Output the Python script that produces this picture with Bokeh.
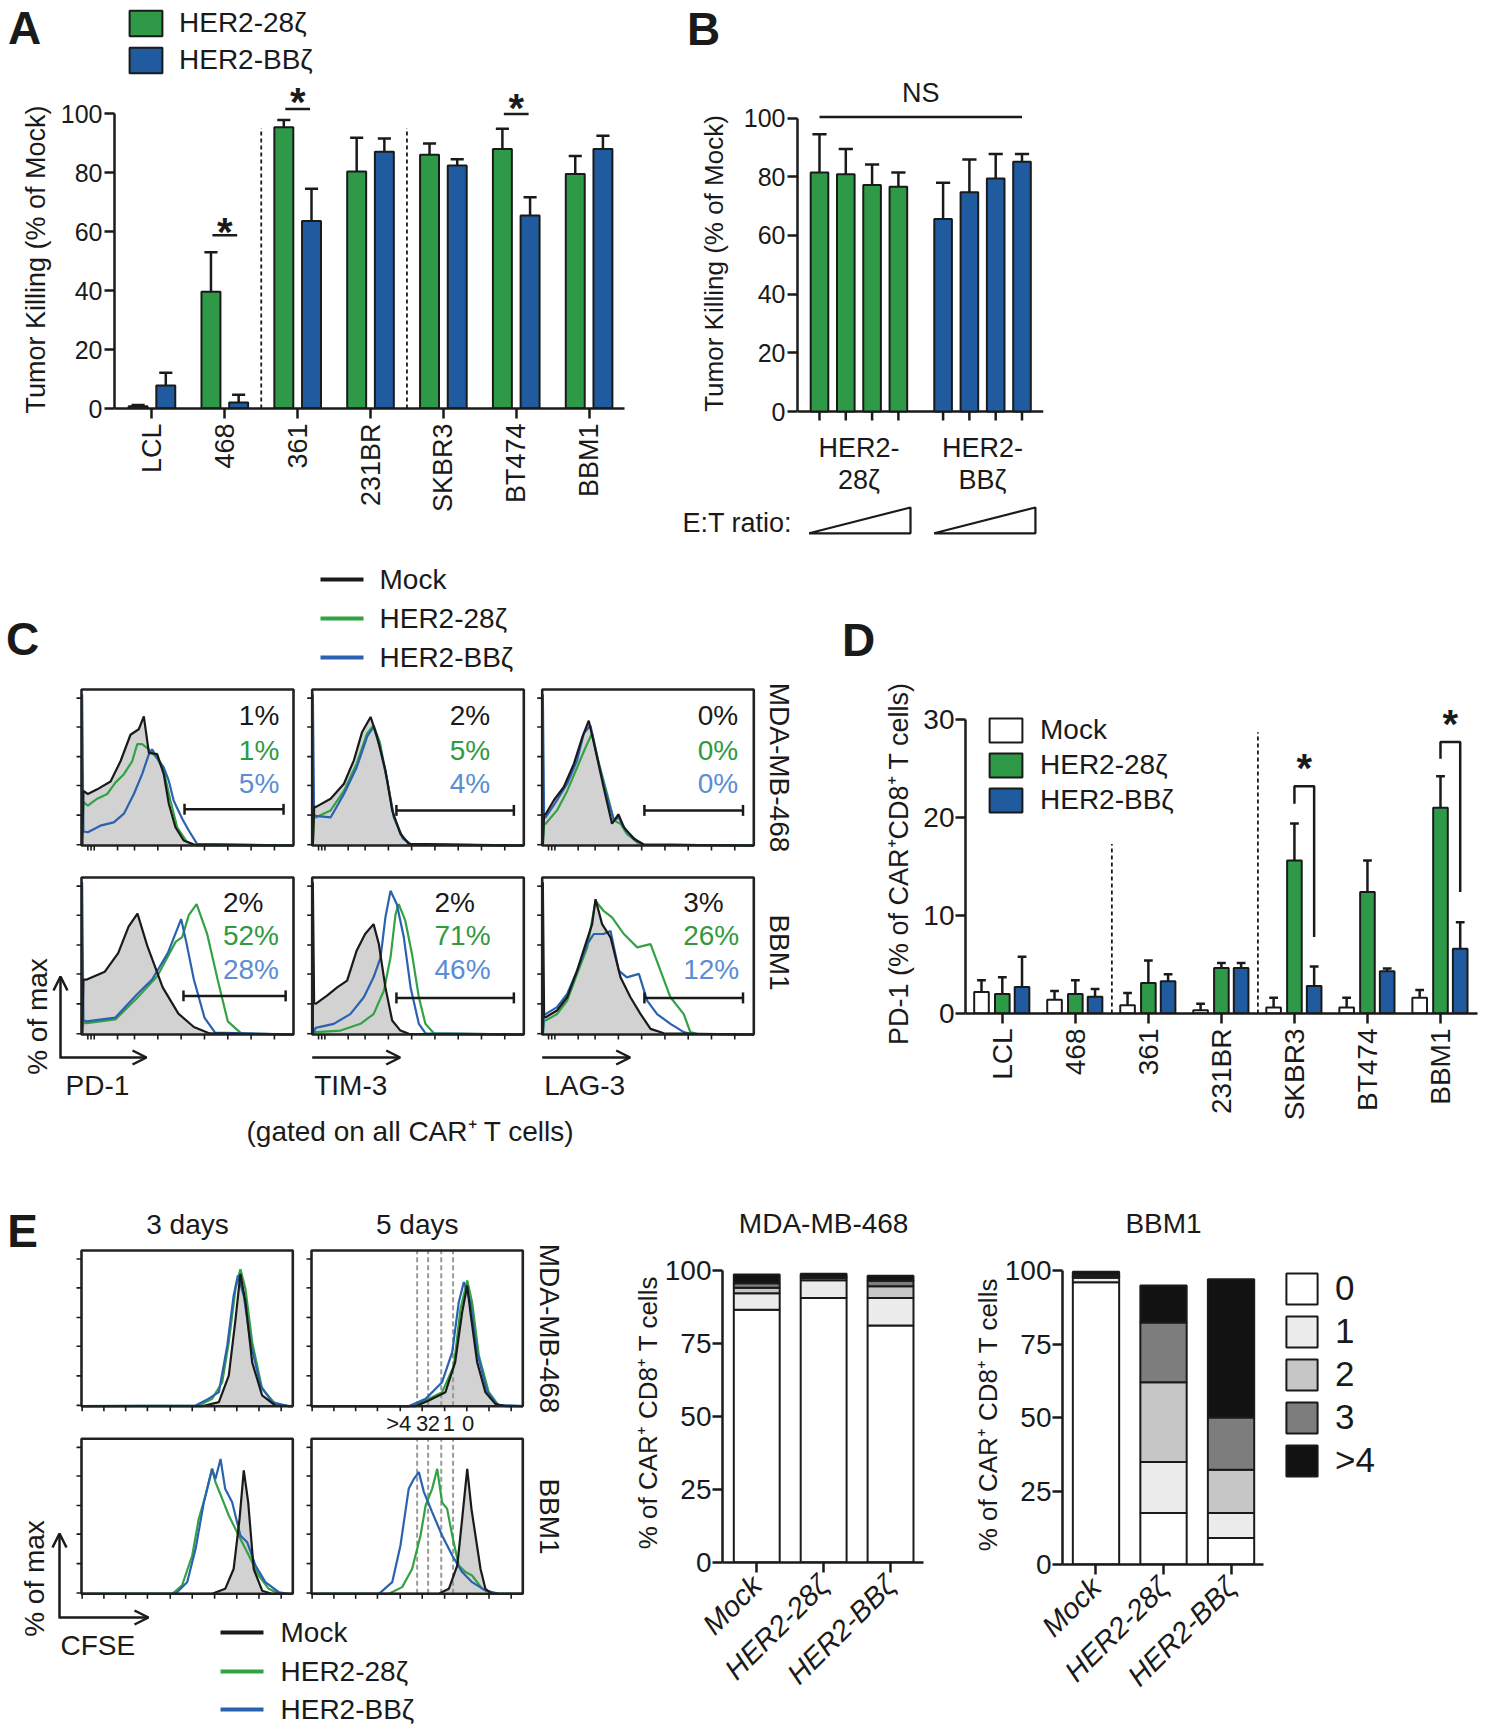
import math
import numpy as np
from bokeh.plotting import figure
from bokeh.models import (Range1d, FixedTicker, Label, Legend, LegendItem, Arrow,
                          OpenHead, Spacer)
from bokeh.layouts import row, column
from bokeh.embed import file_html
from bokeh.resources import INLINE
from bokeh.core.properties import value

# ====================== DATA ======================
# ---- Panel A: tumor killing (% of mock) ----
a_lines = ["LCL", "468", "361", "231BR", "SKBR3", "BT474", "BBM1"]
a_28z_mean = [0.8, 39.6, 95.3, 80.3, 86.0, 88.0, 79.5]
a_28z_sem = [0.4, 13.4, 2.5, 11.5, 3.8, 6.8, 6.1]
a_bbz_mean = [7.8, 2.0, 63.6, 87.0, 82.4, 65.4, 88.0]
a_bbz_sem = [4.3, 2.7, 10.9, 4.5, 2.1, 6.2, 4.5]
a_sig_index = [1, 2, 5]
a_sig_line = [58.7, 101.5, 99.8]
a_sig_star = [62.8, 106.8, 105.0]
a_dividers = [1.5, 3.5]
a_divider_top = 95
a_ticks = [0, 20, 40, 60, 80, 100]

# ---- Panel B: E:T titration ----
b_28z_mean = [81.5, 80.9, 77.2, 76.6]
b_28z_sem = [13.0, 8.6, 7.0, 4.9]
b_bbz_mean = [65.6, 74.7, 79.4, 85.1]
b_bbz_sem = [12.4, 11.2, 8.4, 2.7]
b_groups_top = ["HER2-", "HER2-"]
b_groups_bottom = ["28ζ", "BBζ"]
b_ns_line = 100.4

# ---- Panel C: histograms (x = % of axis, y = % of max) ----
pd1_mda_mock_x = [0.3, 0.9, 3, 7.4, 13.7, 18.4, 23.1, 27, 29.4, 31.8, 35.7, 38.8, 41.2, 44.3, 48.2, 53, 100]
pd1_mda_mock_y = [0, 35, 33, 36, 41, 54, 71, 74.5, 82.8, 59.4, 58.6, 45.8, 26.8, 11.7, 3.2, 0.6, 0]
pd1_mda_28z_x = [0.3, 0.9, 3, 7.4, 12.1, 16, 20, 23.9, 26.3, 28.6, 31.8, 35.7, 38.8, 42, 45.1, 49.8, 54.5, 100]
pd1_mda_28z_y = [0, 28, 25.5, 30, 33, 40.3, 45.7, 54, 65, 65, 61.6, 56, 47.8, 28.7, 11.7, 2.2, 0, 0]
pd1_mda_bbz_x = [0.3, 0.3, 0.9, 3, 8.9, 15.2, 20, 24.7, 28.6, 31.8, 33.3, 35.7, 38.8, 41.2, 43.5, 47.5, 50.6, 54.5, 100]
pd1_mda_bbz_y = [0, 97, 9, 8.5, 12.7, 14.8, 20.4, 33, 45.8, 58.6, 61.6, 56, 50, 41.4, 28.7, 17.2, 9.6, 1, 0]

tim3_mda_mock_x = [0.3, 0.9, 1.6, 8.7, 15, 19.7, 23.6, 27.6, 30.7, 34.6, 37.8, 41.7, 45.7, 100]
tim3_mda_mock_y = [0, 25, 24.6, 30, 39.6, 54.6, 72.8, 82.4, 69.6, 48.2, 22.5, 7.5, 1, 0]
tim3_mda_28z_x = [0.3, 0.9, 1.6, 8.7, 15, 21, 26, 29, 32, 35.4, 38.6, 42.5, 46.5, 100]
tim3_mda_28z_y = [0, 19, 18, 22.5, 35, 52.5, 72, 77, 66, 42, 18, 5.4, 0.6, 0]
tim3_mda_bbz_x = [0.3, 0.3, 0.9, 1.6, 8.7, 15, 21, 26, 29, 32, 35.4, 38.6, 43, 47, 100]
tim3_mda_bbz_y = [0, 97, 20, 19, 18, 33, 50, 70, 76, 63, 42, 18, 4.3, 0.6, 0]

lag3_mda_mock_x = [0.3, 0.9, 1.6, 5.5, 10.2, 15, 19, 22, 25.2, 29, 33, 36, 38.6, 43.3, 48, 100]
lag3_mda_mock_y = [0, 20, 20, 29, 37.5, 52.5, 69.6, 80, 61, 37.5, 14, 20, 11.8, 4.3, 0.6, 0]
lag3_mda_28z_x = [0.3, 0.9, 1.6, 7, 11.8, 16.5, 20.5, 23.6, 26.8, 30.7, 33.9, 37, 40, 44.9, 48, 100]
lag3_mda_28z_y = [0, 14, 14, 22.5, 35, 50, 63, 72, 52.5, 33, 16, 14, 7.5, 2, 0.6, 0]
lag3_mda_bbz_x = [0.3, 0.3, 0.9, 1.6, 7, 11.8, 16.5, 19.7, 22.8, 26, 29.9, 33.9, 36.2, 39.4, 44.9, 48, 100]
lag3_mda_bbz_y = [0, 97, 18, 18, 29, 39.6, 54.6, 72, 77, 56.7, 35, 16, 18, 9.6, 2.8, 0.6, 0]

pd1_bbm_mock_x = [0.3, 0.9, 2.5, 11, 17.3, 22.2, 26.4, 31, 38.3, 45.7, 53, 60.5, 100]
pd1_bbm_mock_y = [0, 35, 35, 40, 51.8, 68.7, 77, 56.6, 30, 13.3, 4.8, 0.7, 0]
pd1_bbm_28z_x = [0.3, 0.9, 2.5, 16, 26, 35.8, 44.4, 47.5, 50.6, 54.3, 59.3, 64.2, 69, 75.3, 100]
pd1_bbm_28z_y = [0, 7.5, 7.2, 9.6, 22.9, 37.3, 59, 62, 76, 83, 63.9, 35, 8.4, 0.7, 0]
pd1_bbm_bbz_x = [0.3, 0.3, 0.9, 2.5, 16, 26, 33.3, 40.7, 47, 49.4, 53, 58, 63, 100]
pd1_bbm_bbz_y = [0, 97, 9, 8.4, 10.8, 25.3, 35, 51.8, 73.5, 59, 35, 10.8, 1.2, 0]

tim3_bbm_mock_x = [0.3, 0.3, 0.9, 1.6, 7, 11.8, 16.5, 21, 25, 29, 31.5, 34.6, 37.8, 41.7, 45.7, 100]
tim3_bbm_mock_y = [0, 97, 20, 19.5, 24.8, 30, 34.3, 53.4, 64, 70.3, 57.6, 30, 8.9, 2.5, 0.4, 0]
tim3_bbm_28z_x = [0.3, 1.6, 13.4, 22.8, 29, 33.9, 37, 39.4, 40.9, 44, 47.2, 50.4, 53.5, 57.5, 100]
tim3_bbm_28z_y = [0, 1.5, 2.5, 6.8, 13, 28, 49, 76.7, 83, 72.5, 51, 23.7, 6.8, 0.8, 0]
tim3_bbm_bbz_x = [0.3, 1.6, 10.2, 18, 24.4, 29, 32.3, 34.6, 37, 40, 43.3, 46.5, 50.4, 53.5, 100]
tim3_bbm_bbz_y = [0, 4.2, 6.8, 13, 23.7, 36.4, 49, 74.6, 91.5, 83, 61.9, 30, 6.8, 0.8, 0]

lag3_bbm_mock_x = [0.3, 0.3, 0.9, 1.6, 7, 11.8, 16.5, 20.5, 23.6, 25.2, 28.3, 32.3, 37, 41.7, 46.5, 51.2, 57.5, 100]
lag3_bbm_mock_y = [0, 97, 11, 11, 15.3, 23.7, 40.7, 57.6, 70.3, 86.2, 70.3, 61.9, 36.4, 23.7, 13, 3.6, 0.8, 0]
lag3_bbm_28z_x = [0.3, 0.9, 1.6, 7, 11.8, 16.5, 21.3, 25.2, 29, 33, 38.6, 44.9, 51.2, 55.9, 60.6, 66.9, 70, 73, 100]
lag3_bbm_28z_y = [0, 9, 8.9, 13, 21.6, 38.6, 55.5, 85, 78.8, 74.6, 64, 55.5, 57.6, 40.7, 23.7, 13, 1.5, 0.4, 0]
lag3_bbm_bbz_x = [0.3, 0.9, 1.6, 7, 11.8, 16.5, 21.3, 24.4, 29, 32.3, 36.2, 40, 45.7, 49.6, 54.3, 60.6, 66.9, 70, 100]
lag3_bbm_bbz_y = [0, 13, 13, 17.4, 25.8, 40.7, 57.6, 64, 64, 66, 40.7, 36.4, 38.6, 21.6, 13, 6.8, 1.5, 0.4, 0]

c_pct_mda = [["1%", "1%", "5%"], ["2%", "5%", "4%"], ["0%", "0%", "0%"]]
c_pct_bbm = [["2%", "52%", "28%"], ["2%", "71%", "46%"], ["3%", "26%", "12%"]]
c_pct_x_mda = [74.2, 65.0, 73.5]
c_pct_x_bbm = [66.7, 57.8, 66.6]
c_pct_y_mda = [83.5, 61.0, 39.6]
c_pct_y_bbm = [84.1, 62.9, 41.7]
c_gate_x0 = [[48.6, 39.8, 48.3], [48.1, 39.8, 48.3]]
c_gate_x1 = [[95.3, 95.3, 94.9], [96.3, 95.3, 94.9]]
c_gate_y = [[23.2, 22.5, 22.5], [24.6, 23.3, 23.3]]
c_markers = ["PD-1", "TIM-3", "LAG-3"]
hist_x_ticks_c = [3, 4.5, 6, 17, 25, 36, 47, 58, 69, 80, 91]
hist_y_ticks = [0.5, 19.5, 38.5, 57, 76, 94.5]
legend_names = ["Mock", "HER2-28ζ", "HER2-BBζ"]

# ---- Panel D: PD-1 ----
d_lines = ["LCL", "468", "361", "231BR", "SKBR3", "BT474", "BBM1"]
d_mock_mean = [2.2, 1.4, 0.85, 0.34, 0.6, 0.6, 1.6]
d_mock_sem = [1.2, 0.9, 1.25, 0.66, 1.0, 1.0, 0.8]
d_28z_mean = [2.0, 2.0, 3.1, 4.65, 15.6, 12.4, 21.0]
d_28z_sem = [1.7, 1.4, 2.3, 0.5, 3.8, 3.2, 3.2]
d_bbz_mean = [2.7, 1.7, 3.3, 4.65, 2.8, 4.3, 6.6]
d_bbz_sem = [3.1, 0.8, 0.7, 0.5, 2.0, 0.3, 2.7]
d_dividers = [1.5, 3.5]
d_divider_top = [17.3, 28.7]
d_sig_index = [4, 6]
d_sig_left_base = [21.4, 26.0]
d_sig_top = [23.2, 27.7]
d_sig_right_base = [7.8, 12.4]
d_sig_star = [26.0, 30.4]
d_ticks = [0, 10, 20, 30]

# ---- Panel E: CFSE histograms ----
cfse_d3_mda_mock_x = [0, 57, 65, 69.7, 72.9, 75.2, 77.6, 80.8, 85.5, 91.8, 100]
cfse_d3_mda_mock_y = [0, 0, 2.6, 19.7, 56, 85, 66.8, 28, 6.9, 0.4, 0]
cfse_d3_mda_28z_x = [0, 55.5, 61.8, 66.6, 69.7, 72.9, 75.2, 77.6, 80.8, 85.5, 91.8, 98, 100]
cfse_d3_mda_28z_y = [0, 0.4, 4.7, 15.4, 41, 75.4, 88, 75.4, 41, 11, 1.5, 0, 0]
cfse_d3_mda_bbz_x = [0, 54, 60, 65, 69, 72, 74, 76.8, 80, 84.7, 90.2, 98, 100]
cfse_d3_mda_bbz_y = [0, 0.4, 4.7, 9, 39, 71, 84, 71, 41, 13.3, 2.6, 0, 0]

cfse_d5_mda_mock_x = [0, 49.2, 55.5, 63.4, 68, 71.3, 73.7, 75.2, 78.4, 82.3, 87, 91.8, 100]
cfse_d5_mda_mock_y = [0, 0, 3.6, 9, 28.3, 60.4, 77.5, 60.4, 28.3, 9, 1.5, 0, 0]
cfse_d5_mda_28z_x = [0, 46, 54, 61.8, 67.4, 70.5, 73.7, 76, 79.2, 83.9, 88.6, 100]
cfse_d5_mda_28z_y = [0, 0, 3.6, 9, 26, 62.5, 80.7, 66.8, 32.5, 9, 0.4, 0]
cfse_d5_mda_bbz_x = [0, 46, 54, 61.8, 66.6, 69.7, 72.1, 75.2, 78.4, 83, 87.9, 100]
cfse_d5_mda_bbz_y = [0, 0, 4.7, 15.4, 34.7, 66.8, 79.7, 66.8, 34.7, 10, 0.9, 0]

cfse_d3_bbm_mock_x = [0, 61.8, 68, 72, 74.8, 76.8, 78.9, 81.5, 85.5, 90, 100]
cfse_d3_bbm_mock_y = [0, 0, 3.2, 16, 48.4, 79.6, 59, 16, 2, 0, 0]
cfse_d3_bbm_28z_x = [0, 43, 47.6, 52.4, 55.5, 58.7, 61.8, 63.4, 66.6, 69.7, 74.4, 79.2, 83.9, 88.6, 93.4, 100]
cfse_d3_bbm_28z_y = [0, 0, 5.4, 24.7, 48.4, 63.4, 80.6, 72, 61.3, 50.5, 37.6, 24.7, 11.8, 3.2, 0, 0]
cfse_d3_bbm_bbz_x = [0, 44.5, 50, 54, 57.9, 61.8, 63.4, 65.8, 68, 71.3, 75.2, 78.4, 82.3, 87, 93.4, 98, 100]
cfse_d3_bbm_bbz_y = [0, 0, 7.5, 29, 59, 80.6, 74, 87, 67.7, 59, 37.6, 33.3, 18.3, 7.5, 1, 0, 0]

cfse_d5_bbm_mock_x = [0, 60.3, 65, 69, 71.3, 73.7, 75.7, 77.6, 80, 82.3, 85.5, 100]
cfse_d5_bbm_mock_y = [0, 0, 3.2, 18.3, 48.4, 80.6, 54.8, 37.6, 16, 3.2, 0, 0]
cfse_d5_bbm_28z_x = [0, 36.6, 42.9, 47.6, 51.6, 54, 57.1, 59.5, 61.8, 64.2, 66.6, 69.7, 72.9, 76, 80.8, 85.5, 100]
cfse_d5_bbm_28z_y = [0, 0, 4.3, 16, 37.6, 57, 67.7, 80.6, 59, 54.8, 37.6, 18.3, 14, 11.8, 3.2, 0, 0]
cfse_d5_bbm_bbz_x = [0, 31.9, 38.2, 42.1, 46, 48.4, 50.8, 53.2, 57.1, 61.8, 66.6, 71.3, 76, 82.3, 88.6, 100]
cfse_d5_bbm_bbz_y = [0, 0, 7.5, 31.2, 67.7, 74, 78.5, 65.6, 52.7, 37.6, 24.7, 14, 7.5, 2.2, 0, 0]

e_division_gates = [50, 55.2, 61.4, 67]
e_division_labels = [">4", "3", "2", "1", "0"]
e_division_label_x = [41.3, 52.4, 57.9, 65.0, 74.1]
hist_x_ticks_e = [0.3, 10.6, 20.9, 31.2, 42, 52.4, 63, 73.5, 84, 94.5]

# ---- Panel E: division stacked bars ----
s_groups = ["Mock", "HER2-28ζ", "HER2-BBζ"]
s_gen_labels = ["0", "1", "2", "3", ">4"]
s_mda_gen0 = [86.5, 90.5, 81.1]
s_mda_gen1 = [5.6, 6.1, 9.4]
s_mda_gen2 = [1.9, 0.7, 4.0]
s_mda_gen3 = [1.5, 0.5, 1.9]
s_mda_gen4 = [3.0, 1.0, 1.7]
s_bbm_gen0 = [96.0, 17.5, 9.0]
s_bbm_gen1 = [1.5, 17.4, 8.5]
s_bbm_gen2 = [0.5, 27.1, 14.7]
s_bbm_gen3 = [0.5, 20.3, 17.8]
s_bbm_gen4 = [1.1, 12.6, 47.0]
s_ticks = [0, 25, 50, 75, 100]

# ====================== STYLE ======================
FONT = "Liberation Sans"
INK = "#1a1a1a"
GREEN = "#2e9a48"
BLUE = "#1f5b9e"
LGREEN = "#33a245"
LBLUE = "#2a62b0"
PCT_COLORS = [INK, "#2f9a40", "#5a8dd4"]
LEG_COLORS = [INK, LGREEN, LBLUE]
GRAY_FILL = "#d2d2d2"
GEN_COLORS = ["#ffffff", "#ececec", "#c6c6c6", "#7d7d7d", "#121212"]
LETTER = "46px"


def base_fig(width, height, xr, yr, left, right, top, bottom, axes=True):
    kw = {} if axes else dict(x_axis_location=None, y_axis_location=None)
    p = figure(width=width, height=height, x_range=xr, y_range=yr,
               output_backend="svg", toolbar_location=None,
               min_border_left=left, min_border_right=right,
               min_border_top=top, min_border_bottom=bottom, **kw)
    p.frame_align = False
    p.outline_line_color = None
    p.grid.visible = False
    p.background_fill_color = "white"
    p.border_fill_color = "white"
    return p


def strip(x0, x1, y0, y1, xr=None):
    # annotation canvas in page pixels (y downwards); frame covers the whole canvas
    return base_fig(int(round(x1 - x0)), int(round(y1 - y0)), xr or Range1d(x0, x1), Range1d(y1, y0),
                    0, 0, 0, 0, axes=False)


def style_axis(ax, size="25px"):
    ax.axis_line_width = 2.5
    ax.axis_line_color = INK
    ax.major_tick_line_width = 2.5
    ax.major_tick_line_color = INK
    ax.major_tick_out = 10
    ax.major_tick_in = 0
    ax.minor_tick_line_color = None
    ax.major_label_text_font = FONT
    ax.major_label_text_font_size = size
    ax.major_label_text_color = INK


def lab(p, x, y, text, size="27px", align="left", baseline="middle", angle=0.0,
        bold=False, color=INK, xr="default", yr="default"):
    p.add_layout(Label(x=x, y=y, text=text, text_font=FONT, text_font_size=size,
                       text_align=align, text_baseline=baseline, angle=angle,
                       text_color=color, text_font_style="bold" if bold else "normal",
                       x_range_name=xr, y_range_name=yr))


def letter(p, x, y, text):
    lab(p, x, y, text, size=LETTER, align="center", bold=True)


def add_legend(p, items, loc, gw, gh, size, standoff, spacing):
    lg = Legend(items=[LegendItem(label=t, renderers=[r]) for t, r in items],
                location=loc, glyph_width=gw, glyph_height=gh,
                label_text_font=FONT, label_text_font_size=size, label_text_color=INK,
                label_standoff=standoff, spacing=spacing, padding=0, margin=0,
                border_line_color=None, background_fill_alpha=0)
    p.add_layout(lg)


def line_key(p, x0, x1, ys, tx, size="28px"):
    p.segment(x0=[x0] * 3, y0=ys, x1=[x1] * 3, y1=ys, line_color=LEG_COLORS, line_width=4)
    for y, t in zip(ys, legend_names):
        lab(p, tx, y, t, size=size)


def err_bars(p, xs, means, sems, cap):
    tops = [m + s for m, s in zip(means, sems)]
    p.segment(x0=xs, y0=means, x1=xs, y1=tops, line_color=INK, line_width=2.5)
    p.segment(x0=[x - cap for x in xs], y0=tops, x1=[x + cap for x in xs], y1=tops,
              line_color=INK, line_width=2.5)


def box_range(b0, b1, f0, f1):
    s = 100.0 / (b1 - b0)
    return Range1d(-(b0 - f0) * s, 100 + (f1 - b1) * s)


def box_range_y(top, bot, ftop, fbot):
    s = 100.0 / (bot - top)
    return Range1d(-(fbot - bot) * s, 100 + (top - ftop) * s)


def draw_hist(p, xr, yr, mock, g, b, xticks, gates=None):
    kw = dict(x_range_name=xr, y_range_name=yr)
    p.varea(x=mock[0], y1=0, y2=mock[1], fill_color=GRAY_FILL, **kw)
    if gates:
        p.segment(x0=gates, y0=0, x1=gates, y1=100, line_color="#9a9a9a", line_width=2, line_dash="5 3", **kw)
    p.line(x=g[0], y=g[1], line_color=LGREEN, line_width=2.2, **kw)
    p.line(x=b[0], y=b[1], line_color=LBLUE, line_width=2.2, **kw)
    p.line(x=mock[0], y=mock[1], line_color=INK, line_width=2.2, **kw)
    p.quad(left=0, right=100, bottom=0, top=100, fill_color=None, line_color="#222222",
           line_width=2.6, **kw)
    p.ray(x=xticks, y=0, length=5, length_units="screen", angle=-math.pi / 2,
          line_color=INK, line_width=1.6, **kw)
    p.ray(x=0, y=hist_y_ticks, length=5, length_units="screen", angle=math.pi,
          line_color=INK, line_width=1.6, **kw)


ARROW_HEAD = dict(size=14, line_width=2.5, line_color=INK)

# ====================== PANEL A ======================
A_STEP, A_PXU = 73.0, 2.95
stripAL = strip(0, 57, 0, 548)
letter(stripAL, 24, 27, "A")
lab(stripAL, 35, 259, "Tumor Killing (% of Mock)", size="27px", align="center", angle=math.pi / 2)

pA = base_fig(608, 548, Range1d(-0.514, -0.514 + 511 / A_STEP), Range1d(0, 408 / A_PXU), 56, 41, 0, 140)
ya = pA.yaxis[0]
style_axis(ya)
ya.bounds = (0, 100)
ya.ticker = FixedTicker(ticks=a_ticks)
ya.major_label_standoff = 2
xa = pA.xaxis[0]
style_axis(xa, "27px")
xa.ticker = FixedTicker(ticks=list(range(len(a_lines))))
xa.major_label_overrides = {i: t for i, t in enumerate(a_lines)}
xa.major_label_orientation = math.pi / 2
xa.major_label_standoff = 5

a_x = np.arange(len(a_lines))
r_a28 = pA.vbar(x=a_x - 0.19, top=a_28z_mean, width=0.26, fill_color=GREEN, line_color=INK, line_width=2)
r_abb = pA.vbar(x=a_x + 0.19, top=a_bbz_mean, width=0.26, fill_color=BLUE, line_color=INK, line_width=2)
err_bars(pA, list(a_x - 0.19), a_28z_mean, a_28z_sem, 0.09)
err_bars(pA, list(a_x + 0.19), a_bbz_mean, a_bbz_sem, 0.09)
pA.segment(x0=a_dividers, y0=0, x1=a_dividers, y1=a_divider_top, line_color=INK, line_width=1.8, line_dash="4 3")
pA.segment(x0=[i - 0.17 for i in a_sig_index], y0=a_sig_line, x1=[i + 0.17 for i in a_sig_index], y1=a_sig_line,
           line_color=INK, line_width=2.5)
pA.text(x=a_sig_index, y=[s - 3 for s in a_sig_star], text=["*"] * len(a_sig_index), text_font=value(FONT),
        text_font_size="40px", text_font_style="bold", text_align="center", text_baseline="middle", text_color=INK)
add_legend(pA, [("HER2-28ζ", r_a28), ("HER2-BBζ", r_abb)], (11, 332), 41, 32, "28px", 13, 5)

# ====================== PANEL B ======================
B_STEP, B_PXU, B_X0 = 26.3, 2.934, 819.0
B_AXIS_Y, B_CANVAS_H = 411, 425
b_pos = [0, 1, 2, 3, 4.7, 5.7, 6.7, 7.7]
stripBL = strip(665, 735, 0, B_CANVAS_H)
letter(stripBL, 703, 28, "B")
lab(stripBL, 713, 263, "Tumor Killing (% of Mock)", size="26px", align="center", angle=math.pi / 2)

b_x0 = -0.836
b_x1 = b_x0 + 246 / B_STEP
b_y0 = -(B_CANVAS_H - B_AXIS_Y) / B_PXU
pB = base_fig(355, B_CANVAS_H, Range1d(b_x0, b_x1), Range1d(b_y0, B_AXIS_Y / B_PXU), 62, 47, 0, 0)
yb = pB.yaxis[0]
style_axis(yb)
yb.bounds = (0, 100)
yb.ticker = FixedTicker(ticks=a_ticks)
yb.major_label_standoff = 2
pB.xaxis.visible = False
# category axis of panel B (unlabelled ticks under each bar)
pB.segment(x0=b_x0, y0=0, x1=b_x1, y1=0, line_color=INK, line_width=2.5)
pB.segment(x0=b_pos, y0=0, x1=b_pos, y1=-9 / B_PXU, line_color=INK, line_width=2.5)

pB.vbar(x=b_pos[:4], top=b_28z_mean, width=0.67, fill_color=GREEN, line_color=INK, line_width=2)
pB.vbar(x=b_pos[4:], top=b_bbz_mean, width=0.67, fill_color=BLUE, line_color=INK, line_width=2)
err_bars(pB, b_pos[:4], b_28z_mean, b_28z_sem, 0.27)
err_bars(pB, b_pos[4:], b_bbz_mean, b_bbz_sem, 0.27)
pB.segment(x0=b_pos[0], y0=b_ns_line, x1=b_pos[-1], y1=b_ns_line, line_color=INK, line_width=2.5)
pB.text(x=[(b_pos[0] + b_pos[-1]) / 2], y=[b_ns_line + 8], text=["NS"], text_font=value(FONT),
        text_font_size="27px", text_align="center", text_baseline="middle", text_color=INK)

stripBB = strip(665, 1090, B_CANVAS_H, 548, xr=Range1d((665 - B_X0) / B_STEP, (1090 - B_X0) / B_STEP))
for gx, t1, t2 in zip([1.5, 6.2], b_groups_top, b_groups_bottom):
    lab(stripBB, gx, 447, t1, size="27px", align="center")
    lab(stripBB, gx, 479, t2, size="27px", align="center")
lab(stripBB, -5.21, 522, "E:T ratio:", size="27px")
stripBB.patches(xs=[[-0.395, 3.46, 3.46], [4.36, 8.21, 8.21]], ys=[[532.8, 532.8, 507], [532.8, 532.8, 507]],
                fill_color="white", line_color=INK, line_width=2.2)

# ====================== PANEL C ======================
C_L, C_R, C_T, C_B = 0, 918, 548, 1150
figC = strip(C_L, C_R, C_T, C_B)
C_COLS = [(81, 293), (311.7, 523.3), (541.7, 753.3)]
C_ROWS = [(689, 845), (877, 1034)]
figC.extra_x_ranges = {f"x{i}": box_range(b0, b1, C_L, C_R) for i, (b0, b1) in enumerate(C_COLS)}
figC.extra_y_ranges = {f"y{j}": box_range_y(t, b, C_T, C_B) for j, (t, b) in enumerate(C_ROWS)}

c_curves = [
    [((pd1_mda_mock_x, pd1_mda_mock_y), (pd1_mda_28z_x, pd1_mda_28z_y), (pd1_mda_bbz_x, pd1_mda_bbz_y)),
     ((tim3_mda_mock_x, tim3_mda_mock_y), (tim3_mda_28z_x, tim3_mda_28z_y), (tim3_mda_bbz_x, tim3_mda_bbz_y)),
     ((lag3_mda_mock_x, lag3_mda_mock_y), (lag3_mda_28z_x, lag3_mda_28z_y), (lag3_mda_bbz_x, lag3_mda_bbz_y))],
    [((pd1_bbm_mock_x, pd1_bbm_mock_y), (pd1_bbm_28z_x, pd1_bbm_28z_y), (pd1_bbm_bbz_x, pd1_bbm_bbz_y)),
     ((tim3_bbm_mock_x, tim3_bbm_mock_y), (tim3_bbm_28z_x, tim3_bbm_28z_y), (tim3_bbm_bbz_x, tim3_bbm_bbz_y)),
     ((lag3_bbm_mock_x, lag3_bbm_mock_y), (lag3_bbm_28z_x, lag3_bbm_28z_y), (lag3_bbm_bbz_x, lag3_bbm_bbz_y))],
]
c_pct = [c_pct_mda, c_pct_bbm]
c_pct_x = [c_pct_x_mda, c_pct_x_bbm]
c_pct_y = [c_pct_y_mda, c_pct_y_bbm]
for r in range(2):
    for c in range(3):
        xr, yr = f"x{c}", f"y{r}"
        mock, g, b = c_curves[r][c]
        draw_hist(figC, xr, yr, mock, g, b, hist_x_ticks_c)
        figC.text(x=[c_pct_x[r][c]] * 3, y=c_pct_y[r], text=c_pct[r][c], text_color=PCT_COLORS,
                  text_font=value(FONT), text_font_size="28px", text_align="left", text_baseline="middle",
                  x_range_name=xr, y_range_name=yr)
        gx0, gx1, gy = c_gate_x0[r][c], c_gate_x1[r][c], c_gate_y[r][c]
        figC.segment(x0=[gx0, gx0, gx1], y0=[gy, gy - 3.5, gy - 3.5], x1=[gx1, gx0, gx1], y1=[gy, gy + 3.5, gy + 3.5],
                     line_color=INK, line_width=2.5, x_range_name=xr, y_range_name=yr)

line_key(figC, 320, 363, [579, 618, 657], 379)
letter(figC, 22, 638, "C")
lab(figC, 779, 767, "MDA-MB-468", size="28px", align="center", angle=-math.pi / 2)
lab(figC, 779, 952, "BBM1", size="28px", align="center", angle=-math.pi / 2)
lab(figC, 37, 1016, "% of max", size="28px", align="center", angle=math.pi / 2)
for (bx0, _), name in zip(C_COLS, c_markers):
    first = name == "PD-1"
    figC.add_layout(Arrow(end=OpenHead(**ARROW_HEAD), x_start=60 if first else bx0, y_start=1057,
                          x_end=146 if first else bx0 + 88, y_end=1057, line_color=INK, line_width=2.5))
    lab(figC, 65 if first else bx0 + 2, 1085, name, size="28px")
figC.add_layout(Arrow(end=OpenHead(**ARROW_HEAD), x_start=60, y_start=1058,
                      x_end=60, y_end=976, line_color=INK, line_width=2.5))
lab(figC, 410, 1131, "(gated on all CAR⁺ T cells)", size="28px", align="center")
# panel D letter and y-axis title live on this canvas
letter(figC, 858, 639, "D")
lab(figC, 898, 863, "PD-1 (% of CAR⁺CD8⁺ T cells)", size="27px", align="center", angle=math.pi / 2)

# ====================== PANEL D ======================
D_STEP, D_PXU = 73.03, 9.8
pD = base_fig(567, 602, Range1d(-0.504, -0.504 + 512 / D_STEP), Range1d(0, 465 / D_PXU), 47, 8, 0, 137)
yd = pD.yaxis[0]
style_axis(yd, "28px")
yd.bounds = (0, 30)
yd.ticker = FixedTicker(ticks=d_ticks)
yd.major_label_standoff = 1
xd = pD.xaxis[0]
style_axis(xd, "28px")
xd.ticker = FixedTicker(ticks=list(range(len(d_lines))))
xd.major_label_overrides = {i: t for i, t in enumerate(d_lines)}
xd.major_label_orientation = math.pi / 2
xd.major_label_standoff = 5
d_x = np.arange(len(d_lines))
r_dm = pD.vbar(x=d_x - 0.285, top=d_mock_mean, width=0.2, fill_color="white", line_color=INK, line_width=2)
r_d28 = pD.vbar(x=d_x, top=d_28z_mean, width=0.2, fill_color=GREEN, line_color=INK, line_width=2)
r_dbb = pD.vbar(x=d_x + 0.27, top=d_bbz_mean, width=0.2, fill_color=BLUE, line_color=INK, line_width=2)
err_bars(pD, list(d_x - 0.285), d_mock_mean, d_mock_sem, 0.06)
err_bars(pD, list(d_x), d_28z_mean, d_28z_sem, 0.06)
err_bars(pD, list(d_x + 0.27), d_bbz_mean, d_bbz_sem, 0.06)
pD.segment(x0=d_dividers, y0=0, x1=d_dividers, y1=d_divider_top, line_color=INK, line_width=1.8, line_dash="4 3")
for i, lb, tp, rb in zip(d_sig_index, d_sig_left_base, d_sig_top, d_sig_right_base):
    pD.line(x=[i, i, i + 0.27, i + 0.27], y=[lb, tp, tp, rb], line_color=INK, line_width=2.5)
pD.text(x=[i + 0.135 for i in d_sig_index], y=[s - 0.9 for s in d_sig_star], text=["*"] * 2, text_font=value(FONT),
        text_font_size="40px", text_font_style="bold", text_align="center", text_baseline="middle", text_color=INK)
add_legend(pD, [("Mock", r_dm), ("HER2-28ζ", r_d28), ("HER2-BBζ", r_dbb)], (20, 197), 41, 30, "28px", 14, 3)

# ====================== PANEL E (histograms) ======================
E_L, E_R, E_T, E_B = 0, 570, 1150, 1735
figE = strip(E_L, E_R, E_T, E_B)
E_COLS = [(81, 292.3), (311, 522.3)]
E_ROWS = [(1250, 1405.7), (1438.3, 1593.3)]
figE.extra_x_ranges = {f"x{i}": box_range(b0, b1, E_L, E_R) for i, (b0, b1) in enumerate(E_COLS)}
figE.extra_y_ranges = {f"y{j}": box_range_y(t, b, E_T, E_B) for j, (t, b) in enumerate(E_ROWS)}
e_curves = [
    [((cfse_d3_mda_mock_x, cfse_d3_mda_mock_y), (cfse_d3_mda_28z_x, cfse_d3_mda_28z_y), (cfse_d3_mda_bbz_x, cfse_d3_mda_bbz_y)),
     ((cfse_d5_mda_mock_x, cfse_d5_mda_mock_y), (cfse_d5_mda_28z_x, cfse_d5_mda_28z_y), (cfse_d5_mda_bbz_x, cfse_d5_mda_bbz_y))],
    [((cfse_d3_bbm_mock_x, cfse_d3_bbm_mock_y), (cfse_d3_bbm_28z_x, cfse_d3_bbm_28z_y), (cfse_d3_bbm_bbz_x, cfse_d3_bbm_bbz_y)),
     ((cfse_d5_bbm_mock_x, cfse_d5_bbm_mock_y), (cfse_d5_bbm_28z_x, cfse_d5_bbm_28z_y), (cfse_d5_bbm_bbz_x, cfse_d5_bbm_bbz_y))],
]
for r in range(2):
    for c in range(2):
        mock, g, b = e_curves[r][c]
        draw_hist(figE, f"x{c}", f"y{r}", mock, g, b, hist_x_ticks_e, e_division_gates if c == 1 else None)
figE.text(x=e_division_label_x, y=[1423] * len(e_division_labels), text=e_division_labels,
          text_font=value(FONT), text_font_size="22px", text_align="center", text_baseline="middle",
          text_color=INK, x_range_name="x1")
line_key(figE, 220, 263, [1632, 1671, 1709], 280)
letter(figE, 22, 1230, "E")
lab(figE, 187, 1224, "3 days", size="28px", align="center")
lab(figE, 416.7, 1224, "5 days", size="28px", align="center")
lab(figE, 549, 1328, "MDA-MB-468", size="28px", align="center", angle=-math.pi / 2)
lab(figE, 549, 1516, "BBM1", size="28px", align="center", angle=-math.pi / 2)
lab(figE, 34, 1578, "% of max", size="28px", align="center", angle=math.pi / 2)
lab(figE, 60, 1645, "CFSE", size="28px")
figE.add_layout(Arrow(end=OpenHead(**ARROW_HEAD), x_start=59, y_start=1618,
                      x_end=59, y_end=1533, line_color=INK, line_width=2.5))
figE.add_layout(Arrow(end=OpenHead(**ARROW_HEAD), x_start=59, y_start=1617,
                      x_end=148, y_end=1617, line_color=INK, line_width=2.5))


# ====================== PANEL E (stacked bars) ======================
def stacked(width, ml, mr, mb, x0, step, pxu, frame_w, frame_h, axis_end, gens, title):
    p = base_fig(width, 585, Range1d(x0, x0 + frame_w / step), Range1d(0, frame_h / pxu), ml, mr, 0, mb)
    y = p.yaxis[0]
    style_axis(y, "28px")
    y.bounds = (0, 100)
    y.ticker = FixedTicker(ticks=s_ticks)
    y.major_label_standoff = 1
    x = p.xaxis[0]
    style_axis(x, "29px")
    x.bounds = (x0, axis_end)
    x.ticker = FixedTicker(ticks=list(range(len(s_groups))))
    x.major_label_overrides = {i: t for i, t in enumerate(s_groups)}
    x.major_label_orientation = math.pi / 4
    x.major_label_text_font_style = "italic"
    x.major_label_standoff = 8
    bottoms = [0.0] * len(s_groups)
    rends = []
    for gvals, col in zip(gens, GEN_COLORS):
        tops = [bt + v for bt, v in zip(bottoms, gvals)]
        rends.append(p.vbar(x=list(range(len(s_groups))), bottom=bottoms, top=tops, width=0.686,
                            fill_color=col, line_color=INK, line_width=2))
        bottoms = tops
    p.text(x=[1], y=[116], text=[title], text_font=value(FONT), text_font_size="28px",
           text_align="center", text_baseline="middle", text_color=INK)
    return p, rends


stripS1 = strip(570, 661, 1150, 1735)
lab(stripS1, 647, 1412, "% of CAR⁺ CD8⁺ T cells", size="26px", align="center", angle=math.pi / 2)
pS1, _ = stacked(311, 55, 0, 173, -0.512, 68.5, 2.923, 256, 412, 2.5,
                 [s_mda_gen0, s_mda_gen1, s_mda_gen2, s_mda_gen3, s_mda_gen4], "MDA-MB-468")
stripS2 = strip(972, 1001, 1150, 1735)
lab(stripS2, 987, 1414, "% of CAR⁺ CD8⁺ T cells", size="26px", align="center", angle=math.pi / 2)
pS2, s_rends = stacked(484, 55, 8, 171, -0.496, 68.5, 2.94, 421, 414, 2.482,
                       [s_bbm_gen0, s_bbm_gen1, s_bbm_gen2, s_bbm_gen3, s_bbm_gen4], "BBM1")
add_legend(pS2, list(zip(s_gen_labels, s_rends)), (220, 84), 39, 39, "35px", 14, 3)

# ====================== LAYOUT ======================
page = column(
    row(stripAL, pA, column(row(stripBL, pB), stripBB), Spacer(width=395, height=548)),
    row(figC, pD),
    row(figE, stripS1, pS1, stripS2, pS2),
)
open("out.html", "w").write(file_html(page, INLINE))
